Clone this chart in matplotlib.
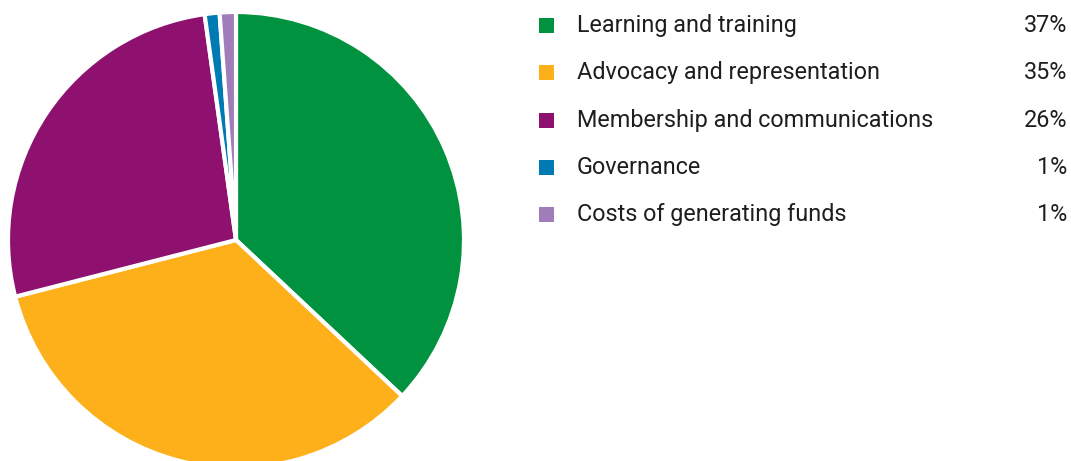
import numpy as np
import matplotlib.pyplot as plt
from matplotlib.patches import Rectangle

categories = ["Learning and training", "Advocacy and representation",
              "Membership and communications", "Governance",
              "Costs of generating funds"]
values = [37.0, 34.0, 26.8, 1.05, 1.15]
labels = ["37%", "35%", "26%", "1%", "1%"]
colors = ["#00923F", "#FDB01A", "#8E1170", "#007AB2", "#A07DB8"]

W, H = 1071, 461
fig = plt.figure(figsize=(W / 100, H / 100), dpi=100)
ax = fig.add_axes([0, 0, 1, 1])

# pie (bottom runs off the canvas like in the original)
ax.pie(values, colors=colors, startangle=90, counterclock=False,
       center=(236, 221), radius=228, frame=True,
       wedgeprops=dict(edgecolor="white", linewidth=3))
ax.set_xlim(0, W)
ax.set_ylim(0, H)
ax.set_aspect("equal")
ax.axis("off")

# legend rows
font = "Roboto"
top, step = H - 25.5, 47.3
for i, (c, pct) in enumerate(zip(categories, labels)):
    y = top - i * step
    ax.add_patch(Rectangle((539, y - 7.5), 15, 15, color=colors[i], lw=0))
    ax.text(577, y, c, fontsize=16.8, family=font, color="#1e1e1e",
            va="center", ha="left")
    ax.text(1067, y, pct, fontsize=16.8, family=font, color="#1e1e1e",
            va="center", ha="right")

fig.savefig("out.png", dpi=100)
